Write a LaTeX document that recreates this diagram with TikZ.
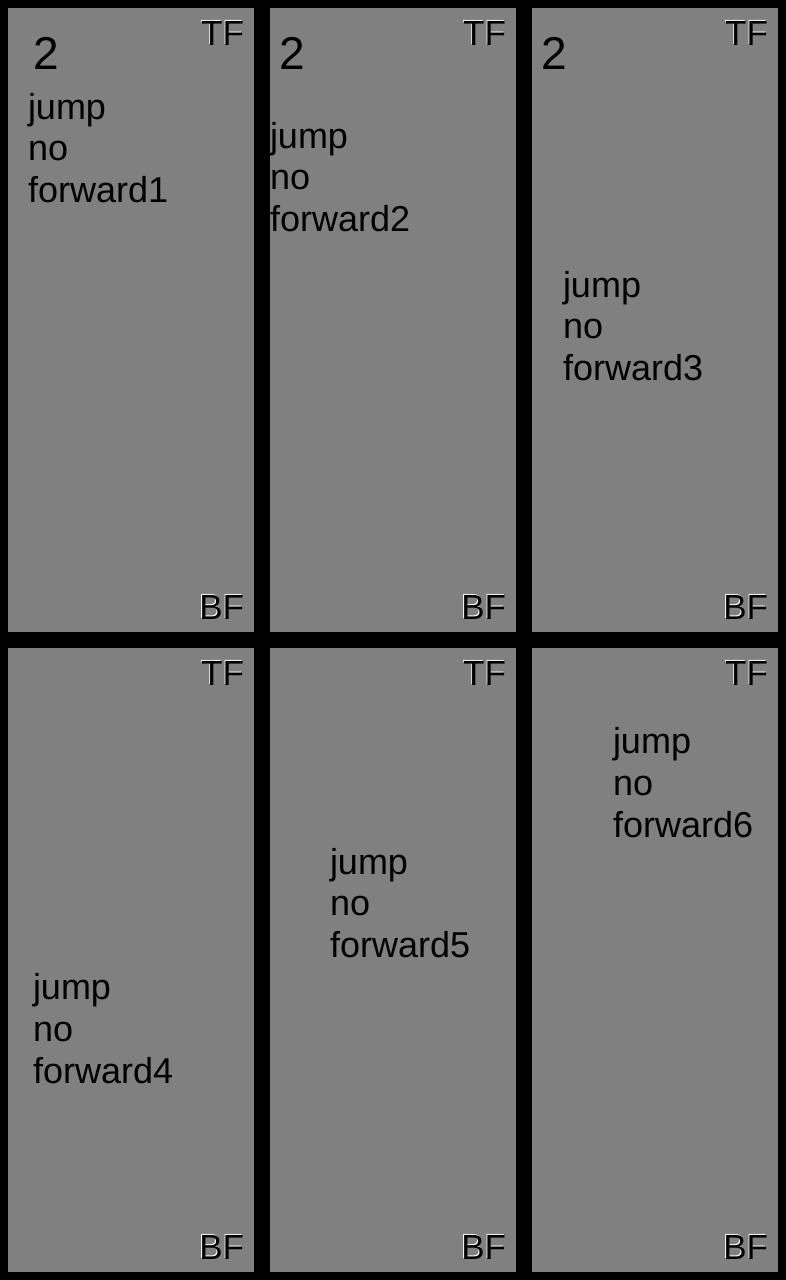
\documentclass[tikz,border=0pt]{standalone}
\usepackage{fontspec}
\setmainfont{Liberation Sans}
\definecolor{panelgray}{RGB}{128,128,128}
\tikzset{
  panel/.style={fill=panelgray, draw=none},
  txt/.style={anchor=base west, inner sep=0pt, outer sep=0pt, font=\fontsize{36}{42}\selectfont, text=black},
  big/.style={anchor=base west, inner sep=0pt, outer sep=0pt, font=\fontsize{46}{52}\selectfont, text=black},
  tag/.style={anchor=base east, inner sep=0pt, outer sep=0pt, font=\fontsize{35}{40}\selectfont, text=black},
  tagshadow/.style={tag, text=white}
}
\begin{document}
\begin{tikzpicture}[x=1pt,y=-1pt]
\useasboundingbox (0,0) rectangle (786,1280);
\fill[black] (0,0) rectangle (786,1280);
% panels
\foreach \x in {8,270,532}{
  \fill[panel] (\x,8) rectangle ++(246,624);
  \fill[panel] (\x,648) rectangle ++(246,624);
}
% TF / BF tags
\foreach \r/\n in {254/1,516/2,778/3}{
  \node[tagshadow] (tfs\n) at (\r-10.8,44.3) {TF};
  \node[tag] (tf\n) at (\r-10,45) {TF};
  \node[tagshadow] (bfs\n) at (\r-10.8,618.3) {BF};
  \node[tag] (bf\n) at (\r-10,619) {BF};
  \node[tagshadow] (tfbs\n) at (\r-10.8,684.3) {TF};
  \node[tag] (tfb\n) at (\r-10,685) {TF};
  \node[tagshadow] (bfbs\n) at (\r-10.8,1258.3) {BF};
  \node[tag] (bfb\n) at (\r-10,1259) {BF};
}
% numbers
\node[big] (n1) at (34,69) {2};
\node[big] (n2) at (279,69) {2};
\node[big] (n3) at (541,69) {2};
% panel 1
\node[txt] (p1a) at (28,119) {jump};
\node[txt] (p1b) at (28,160.5) {no};
\node[txt] (p1c) at (28,202) {forward1};
% panel 2
\node[txt] (p2a) at (270,148) {jump};
\node[txt] (p2b) at (270,189.5) {no};
\node[txt] (p2c) at (270,231) {forward2};
% panel 3
\node[txt] (p3a) at (563,297) {jump};
\node[txt] (p3b) at (563,338.5) {no};
\node[txt] (p3c) at (563,380) {forward3};
% panel 4
\node[txt] (p4a) at (33,999) {jump};
\node[txt] (p4b) at (33,1041) {no};
\node[txt] (p4c) at (33,1083) {forward4};
% panel 5
\node[txt] (p5a) at (330,874) {jump};
\node[txt] (p5b) at (330,915.5) {no};
\node[txt] (p5c) at (330,957) {forward5};
% panel 6
\node[txt] (p6a) at (613,753) {jump};
\node[txt] (p6b) at (613,795) {no};
\node[txt] (p6c) at (613,837) {forward6};
\end{tikzpicture}
\end{document}
